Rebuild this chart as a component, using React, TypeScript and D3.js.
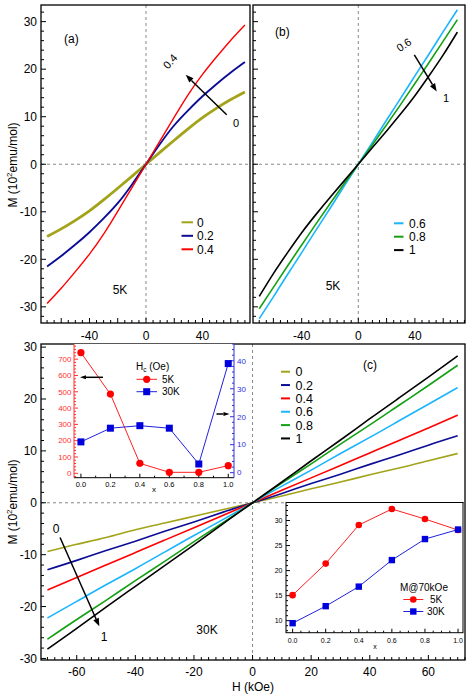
import React from 'react'
import * as d3 from 'd3'

// field grid (kOe)
const H = [-70, -60, -50, -40, -30, -20, -10, 0, 10, 20, 30, 40, 50, 60, 70]

// 5K, panel (a)
const a_x0 = [-15.2, -13.6, -11.8, -9.8, -7.5, -5.05, -2.55, 0, 2.55, 5.05, 7.5, 9.8, 11.8, 13.6, 15.2]
const a_x02 = [-21.5, -19.3, -16.9, -14.3, -11.4, -8.2, -4.3, 0, 4.3, 8.2, 11.4, 14.3, 16.9, 19.3, 21.5]
const a_x04 = [-29.3, -26.1, -22.6, -18.9, -14.7, -9.9, -4.95, 0, 4.95, 9.9, 14.7, 18.9, 22.6, 26.1, 29.3]
// 5K, panel (b)
const b_x06 = [-32.5, -27.9, -23.2, -18.6, -13.9, -9.3, -4.6, 0, 4.6, 9.3, 13.9, 18.6, 23.2, 27.9, 32.5]
const b_x08 = [-30.4, -25.9, -21.4, -17.0, -12.6, -8.3, -4.1, 0, 4.1, 8.3, 12.6, 17.0, 21.4, 25.9, 30.4]
const b_x1 = [-27.8, -23.0, -18.6, -14.4, -10.6, -7.0, -3.5, 0, 3.5, 7.0, 10.6, 14.4, 18.6, 23.0, 27.8]
// 30K, panel (c)
const c_x0 = [-9.4, -8.0, -6.7, -5.2, -3.9, -2.6, -1.3, 0, 1.3, 2.7, 4.0, 5.4, 6.7, 8.1, 9.5]
const c_x02 = [-12.9, -11.1, -9.2, -7.4, -5.5, -3.7, -1.8, 0, 1.8, 3.7, 5.5, 7.4, 9.2, 11.1, 12.9]
const c_x04 = [-16.8, -14.4, -12.0, -9.6, -7.2, -4.8, -2.4, 0, 2.4, 4.8, 7.2, 9.6, 12.0, 14.4, 16.9]
const c_x06 = [-22.2, -19.0, -15.8, -12.7, -9.5, -6.3, -3.2, 0, 3.2, 6.3, 9.5, 12.6, 15.8, 19.0, 22.2]
const c_x08 = [-26.3, -22.5, -18.8, -15.0, -11.3, -7.5, -3.8, 0, 3.8, 7.5, 11.3, 15.0, 18.8, 22.6, 26.5]
const c_x1 = [-28.2, -24.2, -20.1, -16.1, -12.1, -8.1, -4.0, 0, 4.0, 8.1, 12.1, 16.2, 20.2, 24.2, 28.3]

// insets
const xs = [0, 0.2, 0.4, 0.6, 0.8, 1.0]
const hc5K = [740, 486, 61, 6, 6, 47]
const hc30K = [11, 15.9, 16.8, 15.9, 3.1, 39]
const m70_5K = [15.1, 21.4, 29.1, 32.3, 30.3, 28.1]
const m70_30K = [9.5, 12.9, 16.8, 22.1, 26.3, 28.2]

const labels = ['0', '0.2', '0.4', '0.6', '0.8', '1']
const colors = ['#a3a31a', '#0c0c96', '#ff0000', '#1ab4ff', '#14a014', '#000000']

const FONT = '"Liberation Sans", Arial, Helvetica, sans-serif'

const range = (scale: any, step: number) => {
  const [a, b] = scale.domain().slice().sort((p: number, q: number) => p - q)
  const out: number[] = []
  for (let v = Math.ceil(a / step - 1e-9) * step; v <= b + 1e-9; v += step) out.push(+v.toFixed(6))
  return out
}

// ticks along an x axis drawn at pixel y, pointing up (dir=-1) or down
function XTicks({ x, y, step, major, dir = -1, color = '#000', minorLen = 3, majorLen = 5 }: any) {
  return (
    <g stroke={color} strokeWidth={1}>
      {range(x, step).map(v => {
        const isMaj = Math.abs(v / major - Math.round(v / major)) < 1e-6
        const l = isMaj ? majorLen : minorLen
        return <line key={v} x1={x(v)} x2={x(v)} y1={y} y2={y + dir * l} />
      })}
    </g>
  )
}

function YTicks({ y, x, step, major, dir = 1, color = '#000', minorLen = 3, majorLen = 5 }: any) {
  return (
    <g stroke={color} strokeWidth={1}>
      {range(y, step).map(v => {
        const isMaj = Math.abs(v / major - Math.round(v / major)) < 1e-6
        const l = isMaj ? majorLen : minorLen
        return <line key={v} y1={y(v)} y2={y(v)} x1={x} x2={x + dir * l} />
      })}
    </g>
  )
}

function Arrow({ x1, y1, x2, y2, head = 8, w = 3 }: any) {
  const ang = Math.atan2(y2 - y1, x2 - x1)
  const bx = x2 - head * Math.cos(ang)
  const by = y2 - head * Math.sin(ang)
  const px = -Math.sin(ang) * w
  const py = Math.cos(ang) * w
  return (
    <g>
      <line x1={x1} y1={y1} x2={bx} y2={by} stroke="#000" strokeWidth={1.5} />
      <polygon points={`${x2},${y2} ${bx + px},${by + py} ${bx - px},${by - py}`} fill="#000" />
    </g>
  )
}

function Curves({ x, y, series, cols, widths }: any) {
  const line = d3.line<number>().x((_, i) => x(H[i])).y(d => y(d)).curve(d3.curveNatural)
  return (
    <g fill="none">
      {series.map((s: number[], i: number) => (
        <path key={i} d={line(s) || ''} stroke={cols[i]} strokeWidth={widths ? widths[i] : 1.6} />
      ))}
    </g>
  )
}

function Legend({ x, y0, dy, items, len, gap, size }: any) {
  return (
    <g fontFamily={FONT} fontSize={size}>
      {items.map((it: any, i: number) => (
        <g key={i}>
          <line x1={x} x2={x + len} y1={y0 + i * dy} y2={y0 + i * dy} stroke={it.c} strokeWidth={2} />
          <text x={x + len + gap} y={y0 + i * dy + size * 0.36}>{it.t}</text>
        </g>
      ))}
    </g>
  )
}

function MLabel({ cx, cy }: any) {
  return (
    <text transform={`translate(${cx},${cy}) rotate(-90)`} textAnchor="middle" fontFamily={FONT} fontSize={12}>
      M (10<tspan dy={-5} fontSize={8}>2</tspan><tspan dy={5}>emu/mol)</tspan>
    </text>
  )
}

export default function App() {
  // panel (a)
  const xa = d3.scaleLinear().domain([-74.3, 73.6]).range([41, 250])
  const ya = d3.scaleLinear().domain([-33.4, 33.5]).range([323, 5])
  // panel (b)
  const xb = d3.scaleLinear().domain([-74.4, 75.4]).range([253, 465])
  const yb = ya
  // panel (c)
  const xc = d3.scaleLinear().domain([-72.2, 72.5]).range([41, 465])
  const yc = d3.scaleLinear().domain([-30.3, 30.6]).range([660, 344])
  // inset left
  const xl = d3.scaleLinear().domain([-0.047, 1.039]).range([74, 234])
  const yl = d3.scaleLinear().domain([-27, 793]).range([477.7, 344])
  const yl2 = d3.scaleLinear().domain([-1.8, 46]).range([477.7, 344])
  // inset right
  const xr = d3.scaleLinear().domain([-0.04, 1.03]).range([286, 463])
  const yr = d3.scaleLinear().domain([7.6, 33.7]).range([632.7, 502])

  const dash = { stroke: '#888', strokeWidth: 1, strokeDasharray: '3,3' }

  const lineL = d3.line<number>().x((_, i) => xl(xs[i])).y(d => yl(d))
  const lineL2 = d3.line<number>().x((_, i) => xl(xs[i])).y(d => yl2(d))
  const lineR5 = d3.line<number>().x((_, i) => xr(xs[i])).y(d => yr(d))

  return (
    <div style={{ position: 'absolute', left: 0, top: 0 }}>
      <svg width={471} height={697} style={{ display: 'block', background: '#fff' }}>
        <defs>
          <clipPath id="ca"><rect x={41} y={5} width={209} height={318} /></clipPath>
          <clipPath id="cb"><rect x={253} y={5} width={212} height={318} /></clipPath>
          <clipPath id="cc"><rect x={41} y={344} width={424} height={316} /></clipPath>
        </defs>

        {/* ---------- panel (a) ---------- */}
        <line x1={xa(0)} x2={xa(0)} y1={5} y2={323} {...dash} />
        <line x1={41} x2={250} y1={ya(0)} y2={ya(0)} {...dash} />
        <g clipPath="url(#ca)">
          <Curves x={xa} y={ya} series={[a_x0, a_x02, a_x04]} cols={colors.slice(0, 3)} widths={[2.8, 1.9, 1.4]} />
        </g>
        <rect x={41} y={5} width={209} height={318} fill="none" stroke="#000" strokeWidth={1.3} />
        <YTicks y={ya} x={41} step={2} major={10} dir={1} />
        <XTicks x={xa} y={323} step={5} major={20} dir={-1} />
        <g fontFamily={FONT} fontSize={12} textAnchor="end">
          {[-30, -20, -10, 0, 10, 20, 30].map(v => <text key={v} x={37} y={ya(v) + 4.3}>{v}</text>)}
        </g>
        <g fontFamily={FONT} fontSize={12} textAnchor="middle">
          {[-40, 0, 40].map(v => <text key={v} x={xa(v)} y={339.5}>{v}</text>)}
        </g>
        <MLabel cx={17} cy={165} />
        <text x={64} y={43} fontFamily={FONT} fontSize={12}>(a)</text>
        <text x={120} y={294} fontFamily={FONT} fontSize={12} textAnchor="middle">5K</text>
        <Arrow x1={xa(57.1)} y1={ya(10.4)} x2={xa(28.1)} y2={ya(18.8)} />
        <text transform="translate(173,64) rotate(-48)" textAnchor="middle" fontFamily={FONT} fontSize={11}>0.4</text>
        <text x={236} y={127} textAnchor="middle" fontFamily={FONT} fontSize={11}>0</text>
        <Legend x={181.5} y0={222.3} dy={13.5} len={11.5} gap={4} size={12}
          items={[0, 1, 2].map(i => ({ t: labels[i], c: colors[i] }))} />

        {/* ---------- panel (b) ---------- */}
        <line x1={xb(0)} x2={xb(0)} y1={5} y2={323} {...dash} />
        <line x1={253} x2={465} y1={yb(0)} y2={yb(0)} {...dash} />
        <g clipPath="url(#cb)">
          <Curves x={xb} y={yb} series={[b_x06, b_x08, b_x1]} cols={colors.slice(3, 6)} widths={[1.6, 1.6, 1.6]} />
        </g>
        <rect x={253} y={5} width={212} height={318} fill="none" stroke="#000" strokeWidth={1.3} />
        <YTicks y={yb} x={253} step={2} major={10} dir={1} />
        <XTicks x={xb} y={323} step={5} major={20} dir={-1} />
        <g fontFamily={FONT} fontSize={12} textAnchor="middle">
          {[-40, 0, 40].map(v => <text key={v} x={xb(v)} y={339.5}>{v}</text>)}
        </g>
        <text x={275} y={36} fontFamily={FONT} fontSize={12}>(b)</text>
        <text x={333} y={290} fontFamily={FONT} fontSize={12} textAnchor="middle">5K</text>
        <Arrow x1={xb(39.6)} y1={yb(23.0)} x2={xb(55.4)} y2={yb(15.3)} />
        <text transform="translate(406,48) rotate(-34)" textAnchor="middle" fontFamily={FONT} fontSize={11}>0.6</text>
        <text x={446} y={102} textAnchor="middle" fontFamily={FONT} fontSize={11}>1</text>
        <Legend x={394} y0={223.3} dy={13.4} len={9.5} gap={5.5} size={12}
          items={[3, 4, 5].map(i => ({ t: labels[i], c: colors[i] }))} />

        {/* ---------- panel (c) ---------- */}
        <line x1={xc(0)} x2={xc(0)} y1={344} y2={660} {...dash} />
        <line x1={41} x2={465} y1={yc(0)} y2={yc(0)} {...dash} />
        <g clipPath="url(#cc)">
          <Curves x={xc} y={yc} series={[c_x0, c_x02, c_x04, c_x06, c_x08, c_x1]} cols={colors} widths={[1.6, 1.6, 1.6, 1.6, 1.6, 1.6]} />
        </g>
        <rect x={41} y={344} width={424} height={316} fill="none" stroke="#000" strokeWidth={1.3} />
        <YTicks y={yc} x={41} step={2} major={10} dir={1} />
        <XTicks x={xc} y={660} step={2.5} major={20} dir={-1} />
        <g fontFamily={FONT} fontSize={12} textAnchor="end">
          {[-30, -20, -10, 0, 10, 20, 30].map(v => <text key={v} x={37} y={yc(v) + 4.3}>{v}</text>)}
        </g>
        <g fontFamily={FONT} fontSize={12} textAnchor="middle">
          {[-60, -40, -20, 0, 20, 40, 60].map(v => <text key={v} x={xc(v)} y={676}>{v}</text>)}
        </g>
        <MLabel cx={17} cy={502} />
        <text x={253} y={691} fontFamily={FONT} fontSize={12} textAnchor="middle">H (kOe)</text>
        <text x={370} y={369} fontFamily={FONT} fontSize={12} textAnchor="middle">(c)</text>
        <text x={207} y={634} fontFamily={FONT} fontSize={12} textAnchor="middle">30K</text>
        <Arrow x1={xc(-65.7)} y1={yc(-6.7)} x2={xc(-52.3)} y2={yc(-23.8)} />
        <text x={56} y={533} textAnchor="middle" fontFamily={FONT} fontSize={12}>0</text>
        <text x={104} y={641} textAnchor="middle" fontFamily={FONT} fontSize={12}>1</text>
        <Legend x={281} y0={371.7} dy={13.35} len={9} gap={5.5} size={12.5}
          items={[0, 1, 2, 3, 4, 5].map(i => ({ t: labels[i], c: colors[i] }))} />

        {/* ---------- inset: coercive field ---------- */}
        <rect x={74} y={344} width={160} height={133.7} fill="#fff" />
        <line x1={74} x2={234} y1={477.7} y2={477.7} stroke="#000" strokeWidth={1} />
        <line x1={74} x2={74} y1={344} y2={477.7} stroke="#ff3030" strokeWidth={1} />
        <line x1={234} x2={234} y1={344} y2={477.7} stroke="#3030e0" strokeWidth={1} />
        <YTicks y={yl} x={74} step={20} major={100} dir={1} color="#ff3030" minorLen={2} majorLen={4} />
        <YTicks y={yl2} x={234} step={2} major={10} dir={-1} color="#3030e0" minorLen={2} majorLen={4} />
        <XTicks x={xl} y={477.7} step={0.1} major={0.2} dir={-1} minorLen={2} majorLen={4} />
        <g fontFamily={FONT} fontSize={8} textAnchor="end" fill="#ff3030">
          {[0, 100, 200, 300, 400, 500, 600, 700].map(v => <text key={v} x={71.5} y={yl(v) + 2.8}>{v}</text>)}
        </g>
        <g fontFamily={FONT} fontSize={8} textAnchor="start" fill="#3030e0">
          {[0, 10, 20, 30, 40].map(v => <text key={v} x={237} y={yl2(v) + 2.8}>{v}</text>)}
        </g>
        <g fontFamily={FONT} fontSize={7.5} textAnchor="middle">
          {[0, 0.2, 0.4, 0.6, 0.8, 1.0].map(v => <text key={v} x={xl(v)} y={487}>{v.toFixed(1)}</text>)}
        </g>
        <text x={154} y={492} fontFamily={FONT} fontSize={8} textAnchor="middle">x</text>
        <path d={lineL(hc5K) || ''} fill="none" stroke="#ff2020" strokeWidth={1} />
        <path d={lineL2(hc30K) || ''} fill="none" stroke="#2020e0" strokeWidth={1} />
        {hc5K.map((v, i) => <circle key={i} cx={xl(xs[i])} cy={yl(v)} r={3.6} fill="#ff0000" />)}
        {hc30K.map((v, i) => <rect key={i} x={xl(xs[i]) - 3.5} y={yl2(v) - 3.5} width={7} height={7} fill="#0000dd" />)}
        <Arrow x1={103} y1={377.3} x2={80} y2={377.3} head={6} w={2} />
        <Arrow x1={216.5} y1={414} x2={229.5} y2={414} head={6} w={2} />
        <text x={136} y={370} fontFamily={FONT} fontSize={10}>H<tspan fontSize={6.5} dy={2}>c</tspan><tspan dy={-2}> (Oe)</tspan></text>
        <line x1={136.5} x2={157} y1={379.3} y2={379.3} stroke="#ff2020" strokeWidth={1} />
        <circle cx={146.7} cy={379.3} r={3.6} fill="#ff0000" />
        <text x={162} y={383} fontFamily={FONT} fontSize={10}>5K</text>
        <line x1={136.5} x2={157} y1={391.7} y2={391.7} stroke="#2020e0" strokeWidth={1} />
        <rect x={143.2} y={388.2} width={7} height={7} fill="#0000dd" />
        <text x={162} y={395.4} fontFamily={FONT} fontSize={10}>30K</text>

        {/* ---------- inset: M at 70 kOe ---------- */}
        <rect x={286} y={502.5} width={177} height={130.2} fill="#fff" stroke="#000" strokeWidth={1} />
        <YTicks y={yr} x={286} step={1} major={5} dir={1} minorLen={2} majorLen={4} />
        <XTicks x={xr} y={632.7} step={0.05} major={0.2} dir={-1} minorLen={2} majorLen={4} />
        <g fontFamily={FONT} fontSize={7} textAnchor="end">
          {[10, 15, 20, 25, 30].map(v => <text key={v} x={282.5} y={yr(v) + 2.5}>{v}</text>)}
        </g>
        <g fontFamily={FONT} fontSize={7} textAnchor="middle">
          {[0, 0.2, 0.4, 0.6, 0.8, 1.0].map(v => <text key={v} x={xr(v)} y={643}>{v.toFixed(1)}</text>)}
        </g>
        <text x={375} y={649} fontFamily={FONT} fontSize={7} textAnchor="middle">x</text>
        <path d={lineR5(m70_5K) || ''} fill="none" stroke="#ff2020" strokeWidth={1} />
        <path d={lineR5(m70_30K) || ''} fill="none" stroke="#2020e0" strokeWidth={1} />
        {m70_5K.map((v, i) => <circle key={i} cx={xr(xs[i])} cy={yr(v)} r={3.3} fill="#ff0000" />)}
        {m70_30K.map((v, i) => <rect key={i} x={xr(xs[i]) - 3.2} y={yr(v) - 3.2} width={6.4} height={6.4} fill="#0000dd" />)}
        <text x={400} y={591} fontFamily={FONT} fontSize={10}>M@70kOe</text>
        <line x1={403.3} x2={423.3} y1={599.5} y2={599.5} stroke="#ff2020" strokeWidth={1} />
        <circle cx={413.3} cy={599.5} r={3.3} fill="#ff0000" />
        <text x={430} y={603} fontFamily={FONT} fontSize={10}>5K</text>
        <line x1={403.3} x2={423.3} y1={611.5} y2={611.5} stroke="#2020e0" strokeWidth={1} />
        <rect x={410.1} y={608.3} width={6.4} height={6.4} fill="#0000dd" />
        <text x={427} y={615} fontFamily={FONT} fontSize={10}>30K</text>
      </svg>
    </div>
  )
}
